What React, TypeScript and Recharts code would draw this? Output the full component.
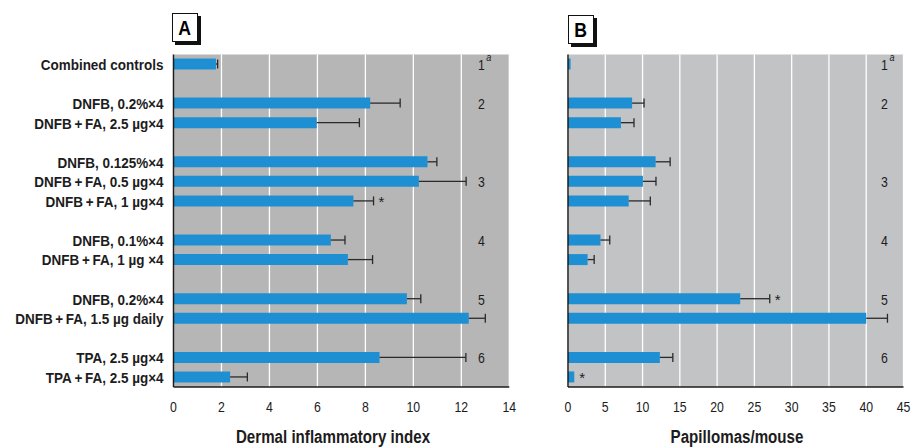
import {
  Bar,
  BarChart,
  CartesianGrid,
  ErrorBar,
  ReferenceDot,
  XAxis,
  YAxis,
} from "recharts";

// one entry per row, blank rows separate the treatment groups
const rowIds = ["c0", "gap1", "g2a", "g2b", "gap2", "g3a", "g3b", "g3c", "gap3", "g4a", "g4b", "gap4", "g5a", "g5b", "gap5", "g6a", "g6b"];

const treatments = [
  "Combined controls",
  "",
  "DNFB, 0.2%×4",
  "DNFB\u2009+\u2009FA, 2.5 µg×4",
  "",
  "DNFB, 0.125%×4",
  "DNFB\u2009+\u2009FA, 0.5 µg×4",
  "DNFB\u2009+\u2009FA, 1 µg×4",
  "",
  "DNFB, 0.1%×4",
  "DNFB\u2009+\u2009FA, 1 µg ×4",
  "",
  "DNFB, 0.2%×4",
  "DNFB\u2009+\u2009FA, 1.5 µg daily",
  "",
  "TPA, 2.5 µg×4",
  "TPA\u2009+\u2009FA, 2.5 µg×4",
];

const groupLabels = ["1", "", "2", "", "", "", "3", "", "", "4", "", "", "5", "", "", "6", ""];

const dermalIndex = [1.77, null, 8.2, 5.97, null, 10.59, 10.23, 7.5, null, 6.56, 7.27, null, 9.73, 12.31, null, 8.59, 2.36];
const dermalSE = [0.07, null, 1.25, 1.78, null, 0.39, 1.97, 0.84, null, 0.59, 1.03, null, 0.58, 0.69, null, 3.6, 0.72];

const papillomas = [0.35, null, 8.6, 7.1, null, 11.75, 10.05, 8.14, null, 4.36, 2.63, null, 23.1, 40.0, null, 12.32, 0.84];
const papillomaSE = [null, null, 1.6, 1.75, null, 1.95, 1.75, 2.9, null, 1.24, 0.88, null, 3.96, 2.85, null, 1.74, null];

// rows flagged as significantly different
const dermalStars = ["g3c"];
const papillomaStars = ["g5a", "g6b"];

const dermalTicks = [0, 2, 4, 6, 8, 10, 12, 14];
const papillomaTicks = [0, 5, 10, 15, 20, 25, 30, 35, 40, 45];

const data = rowIds.map((id, i) => ({
  id,
  label: treatments[i],
  group: groupLabels[i],
  dermal: dermalIndex[i],
  dermalErr: dermalSE[i] == null ? null : [0, dermalSE[i]],
  papilloma: papillomas[i],
  papillomaErr: papillomaSE[i] == null ? null : [0, papillomaSE[i]],
}));

const rowById: Record<string, (typeof data)[number]> = {};
data.forEach((d) => (rowById[d.id] = d));

const FONT = '"Liberation Sans", Arial, sans-serif';
const BLUE = "#1e8fd2";
const INK = "#1c1c1c";
// Liberation Sans squeezed horizontally stands in for a condensed face
const NARROW = 0.84;

function NameTick(props: any) {
  const { x, y, payload } = props;
  const label = rowById[payload.value]?.label;
  if (!label) return null;
  return (
    <g transform={`translate(${x},${y}) scale(0.87,1)`}>
      <text x={0} y={0} dy="0.36em" textAnchor="end" fontSize={15.5} fontWeight={700} fill={INK}>
        {label}
      </text>
    </g>
  );
}

function ValueTick(props: any) {
  const { x, y, payload } = props;
  return (
    <g transform={`translate(${x},${y}) scale(0.82,1)`}>
      <text x={0} y={0} dy="0.71em" textAnchor="middle" fontSize={15} fill={INK}>
        {payload.value}
      </text>
    </g>
  );
}

function GroupTick(props: any) {
  const { x, y, payload, inset } = props;
  const row = rowById[payload.value];
  if (!row || !row.group) return null;
  return (
    <g transform={`translate(${x - inset},${y}) scale(0.82,1)`}>
      <text x={0} y={0} dy="0.38em" textAnchor="middle" fontSize={15} fill={INK}>
        {row.group}
      </text>
      {row.group === "1" && (
        <text x={6} y={-3} fontSize={11} fontStyle="italic" fill={INK}>
          a
        </text>
      )}
    </g>
  );
}

function Star(props: any) {
  const { cx, cy } = props;
  return (
    <text x={cx + 8} y={cy + 6} textAnchor="middle" fontSize={15} fill={INK}>
      *
    </text>
  );
}

type PanelProps = {
  valueKey: "dermal" | "papilloma";
  errKey: string;
  ticks: number[];
  width: number;
  right: number;
  yWidth: number;
  showNames: boolean;
  inset: number;
  bg: string;
  stars: string[];
};

function Panel({ valueKey, errKey, ticks, width, right, yWidth, showNames, inset, bg, stars }: PanelProps) {
  return (
    <BarChart
      width={width}
      height={447}
      data={data}
      layout="vertical"
      barSize={11}
      margin={{ top: 54.5, right, bottom: 30, left: 0 }}
    >
      <CartesianGrid
        horizontal={false}
        fill={bg}
        fillOpacity={1}
        stroke="#ffffff"
        strokeWidth={1.3}
      />
      <XAxis
        type="number"
        domain={[0, ticks[ticks.length - 1]]}
        ticks={ticks}
        interval={0}
        height={30}
        tickSize={0}
        tickMargin={14}
        tick={<ValueTick />}
        axisLine={{ stroke: INK, strokeWidth: 1.5 }}
      />
      <YAxis
        type="category"
        dataKey="id"
        width={yWidth}
        tickSize={0}
        tickMargin={10}
        tickLine={false}
        interval={0}
        tick={showNames ? <NameTick /> : false}
        axisLine={{ stroke: INK, strokeWidth: 1.5 }}
      />
      <YAxis
        yAxisId="groups"
        type="category"
        dataKey="id"
        orientation="right"
        mirror
        tickSize={0}
        tickMargin={0}
        tickLine={false}
        axisLine={false}
        interval={0}
        tick={<GroupTick inset={inset} />}
      />
      <Bar dataKey={valueKey} fill={BLUE} isAnimationActive={false}>
        <ErrorBar
          dataKey={errKey}
          direction="x"
          width={4.5}
          stroke="#2a2a2a"
          strokeWidth={1.3}
          isAnimationActive={false}
        />
      </Bar>
      {stars.map((id) => {
        const row = rowById[id];
        const err = (row as any)[errKey];
        const end = (row[valueKey] ?? 0) + (err ? err[1] : 0);
        return (
          <ReferenceDot key={id} x={end} y={id} r={0} shape={<Star />} ifOverflow="visible" />
        );
      })}
    </BarChart>
  );
}

function PanelTag({ letter, left, top }: { letter: string; left: number; top: number }) {
  return (
    <div
      style={{
        position: "absolute",
        left,
        top,
        width: 24,
        height: 27,
        border: "1.5px solid #111",
        background: "#fff",
        boxShadow: "3px 3px 0 #111",
        fontWeight: 700,
        fontSize: 21,
        lineHeight: "27px",
        textAlign: "center",
      }}
    >
      <span style={{ display: "inline-block", transform: `scaleX(${NARROW})` }}>{letter}</span>
    </div>
  );
}

function AxisTitle({ text, center }: { text: string; center: number }) {
  return (
    <div
      style={{
        position: "absolute",
        left: center - 150,
        width: 300,
        top: 427,
        textAlign: "center",
        fontWeight: 700,
        fontSize: 18,
        lineHeight: "20px",
        color: INK,
        transform: `scaleX(${NARROW})`,
      }}
    >
      {text}
    </div>
  );
}

export default function App() {
  return (
    <div
      style={{
        position: "absolute",
        left: 0,
        top: 0,
        width: 917,
        height: 447,
        background: "#ffffff",
        fontFamily: FONT,
        overflow: "hidden",
      }}
    >
      <style>{`.recharts-errorBar line:nth-of-type(3){display:none}`}</style>
      <div style={{ position: "absolute", left: 0, top: 0 }}>
        <Panel
          valueKey="dermal"
          errKey="dermalErr"
          ticks={dermalTicks}
          width={520}
          right={10.7}
          yWidth={173.5}
          showNames
          inset={28}
          bg="#b6b6b6"
          stars={dermalStars}
        />
      </div>
      <div style={{ position: "absolute", left: 520, top: 0 }}>
        <Panel
          valueKey="papilloma"
          errKey="papillomaErr"
          ticks={papillomaTicks}
          width={397}
          right={13.5}
          yWidth={48}
          showNames={false}
          inset={19}
          bg="#c2c3c5"
          stars={papillomaStars}
        />
      </div>
      <PanelTag letter="A" left={172} top={13} />
      <PanelTag letter="B" left={568} top={14.5} />
      <AxisTitle text="Dermal inflammatory index" center={333} />
      <AxisTitle text="Papillomas/mouse" center={737} />
    </div>
  );
}
